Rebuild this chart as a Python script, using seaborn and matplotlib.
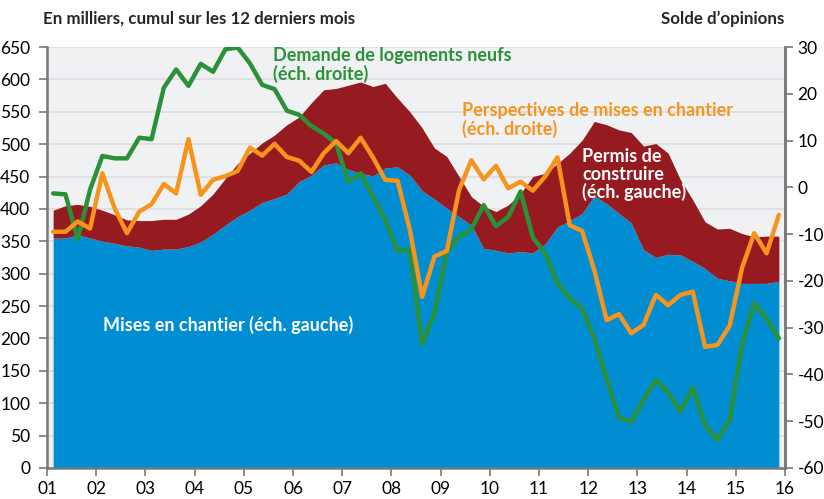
import numpy as np
import pandas as pd
import seaborn as sns
import matplotlib.pyplot as plt

# ---- data (quarterly, 2001T1 .. 2015T4) ----
year_labels = ["01", "02", "03", "04", "05", "06", "07", "08", "09", "10",
               "11", "12", "13", "14", "15", "16"]

mises = [355, 355, 360, 355, 350, 347, 343, 341, 336, 338, 338, 342, 349, 361, 375, 388,
         398, 410, 416, 423, 442, 452, 468, 471, 461, 455, 451, 463, 465, 452,
         428, 415, 401, 388, 375, 339, 336, 332, 334, 332,
         346, 372, 382, 393, 420, 408, 393, 378, 337, 325,
         330, 329, 319, 308, 293, 289, 285, 285, 285, 288]

permis = [398, 405, 407, 404, 398, 391, 383, 382, 382, 384, 384, 392, 405, 423, 447, 470,
          486, 502, 514, 530, 542, 564, 584, 586, 591, 596, 589, 594, 571, 550,
          525, 494, 481, 450, 419, 404, 396, 406, 424, 450,
          455, 470, 486, 506, 535, 530, 522, 518, 497, 501,
          486, 445, 414, 380, 369, 370, 362, 357, 358, 358]

demande = [-1.3, -1.5, -11.1, -0.5, 6.7, 6.2, 6.2, 10.6, 10.3, 21.3, 25.2, 21.7, 26.4, 24.7, 29.5, 29.9,
           26.5, 21.9, 21.0, 16.4, 15.5, 13.1, 11.5, 9.4, 1.2, 3.0, -2.0, -7.0, -13.6, -13.4,
           -33.5, -26.9, -13.8, -10.6, -9.0, -3.8, -8.3, -6.3, -0.9, -10.7,
           -14.1, -20.5, -23.7, -25.9, -32.3, -41.0, -49.2, -50.1, -45.5, -41.2,
           -43.9, -48.0, -42.8, -50.8, -54.0, -49.7, -33.7, -24.8, -28.0, -32.3]

perspectives = [-9.5, -9.5, -7.3, -8.8, 3.0, -4.5, -9.8, -5.2, -3.6, 0.7, -1.3, 10.3, -1.6, 1.6, 2.4, 3.5,
                8.5, 6.8, 9.3, 6.5, 5.7, 3.3, 7.3, 9.9, 7.3, 10.6, 6.4, 1.6, 1.4, -9.1,
                -23.4, -14.8, -13.6, -0.6, 5.8, 1.7, 4.6, -0.2, 1.2, -0.7,
                2.3, 6.4, -8.1, -9.3, -17.7, -28.4, -27.1, -31.2, -29.4, -23.0,
                -25.2, -23.0, -22.3, -34.1, -33.7, -29.6, -17.3, -9.8, -14.1, -5.9]

n = len(mises)
x = 2001.125 + 0.25 * np.arange(n)
df = pd.DataFrame({"x": x, "mises": mises, "permis": permis,
                   "demande": demande, "perspectives": perspectives})

BLUE = "#008dd2"
RED = "#961b21"
GREEN = "#2b9139"
ORANGE = "#f7941d"
SPINE = "#77787b"
BG = "#f0f1f3"
GRID = "#dcdde0"

sns.set_theme(style="white")
plt.rcParams["font.family"] = ["Lato", "DejaVu Sans"]
plt.rcParams["axes.unicode_minus"] = False

W, H = 824, 499
fig = plt.figure(figsize=(W / 100, H / 100), dpi=100)
L, R, T, B = 47, 785, 47, 468
ax = fig.add_axes([L / W, 1 - B / H, (R - L) / W, (B - T) / H])
ax2 = ax.twinx()

ax.set_facecolor(BG)
ax.fill_between(df["x"], 0, df["mises"], color=BLUE, lw=0, zorder=2)
ax.fill_between(df["x"], df["mises"], df["permis"], color=RED, lw=0, zorder=2)

sns.lineplot(data=df, x="x", y="perspectives", ax=ax2, color=ORANGE, lw=3.2, zorder=4)
sns.lineplot(data=df, x="x", y="demande", ax=ax2, color=GREEN, lw=3.2, zorder=3)

ax.set_xlim(2001, 2016)
ax.set_ylim(0, 650)
ax2.set_ylim(-60, 30)
ax.set_yticks(np.arange(0, 651, 50))
ax2.set_yticks(np.arange(-60, 31, 10))
ax.set_xticks(np.arange(2001, 2017))
ax.set_xticklabels(year_labels)
ax.grid(axis="y", color=GRID, lw=1.2, zorder=0)
ax.grid(axis="x", visible=False)
ax.set_axisbelow(True)
ax2.grid(False)
ax.set_xlabel("")
ax.set_ylabel("")
ax2.set_xlabel("")
ax2.set_ylabel("")

for a in (ax, ax2):
    for s in a.spines.values():
        s.set_color(SPINE)
        s.set_linewidth(1.8)
    a.spines["top"].set_visible(False)
ax2.spines["left"].set_visible(False)
ax2.spines["bottom"].set_visible(False)

ax.tick_params(axis="y", which="both", left=True, length=6, width=1.2, color=SPINE,
               labelsize=12.5, pad=6, labelcolor="black")
ax.tick_params(axis="x", bottom=True, length=6, width=1.2, color=SPINE,
               labelsize=12.5, pad=3, labelcolor="black")
ax2.tick_params(axis="y", right=True, length=6, width=1.2, color=SPINE,
                labelsize=12.5, pad=3, labelcolor="black")


def ftext(px, py, s, **kw):
    fig.text(px / W, 1 - py / H, s, **kw)


ftext(43, 24, "En milliers, cumul sur les 12 derniers mois", fontsize=12.2,
      fontweight="bold", va="baseline", ha="left")
ftext(784, 24, "Solde d’opinions", fontsize=12.2, fontweight="bold",
      va="baseline", ha="right")

lab = dict(fontsize=13, fontweight="bold", va="baseline", ha="left")
ftext(273, 61, "Demande de logements neufs", color=GREEN, **lab)
ftext(273, 79.5, "(éch. droite)", color=GREEN, **lab)
ftext(462, 116, "Perspectives de mises en chantier", color=ORANGE, **lab)
ftext(462, 134.5, "(éch. droite)", color=ORANGE, **lab)
ftext(582, 162, "Permis de", color="white", **lab)
ftext(582, 180, "construire", color="white", **lab)
ftext(582, 198.3, "(éch. gauche)", color="white", **lab)
ftext(103, 331, "Mises en chantier (éch. gauche)", color="white", **lab)

fig.savefig("out.png", dpi=100)
